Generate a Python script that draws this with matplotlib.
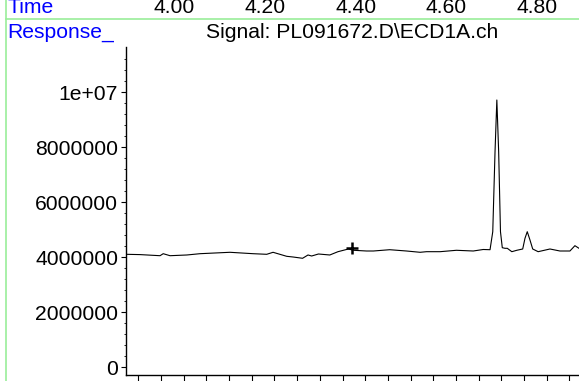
import numpy as np
import matplotlib
matplotlib.use('Agg')
import matplotlib.pyplot as plt
from matplotlib.lines import Line2D
from matplotlib.ticker import FixedLocator, FixedFormatter
import matplotlib.transforms as mtransforms

plt.rcParams['font.family'] = ['Liberation Sans', 'DejaVu Sans']

# chromatogram trace (time in min, response)
time = [3.894, 3.925, 3.969, 3.976, 3.991, 4.028, 4.057, 4.123, 4.174, 4.204,
        4.218, 4.248, 4.262, 4.283, 4.295, 4.303, 4.318, 4.343, 4.361, 4.384,
        4.395, 4.424, 4.439, 4.475, 4.512, 4.542, 4.556, 4.586, 4.622, 4.659,
        4.681, 4.696, 4.702, 4.707, 4.711, 4.715, 4.719, 4.723, 4.729, 4.734,
        4.744, 4.755, 4.768, 4.773, 4.778, 4.784, 4.790, 4.802, 4.828, 4.850,
        4.872, 4.883, 4.892]
response = [4.109, 4.098, 4.058, 4.131, 4.058, 4.084, 4.131, 4.182, 4.131, 4.109,
            4.182, 4.036, 4.011, 3.964, 4.084, 4.047, 4.120, 4.084, 4.204, 4.302,
            4.255, 4.229, 4.229, 4.276, 4.229, 4.182, 4.204, 4.204, 4.255, 4.229,
            4.284, 4.276, 4.931, 7.840, 9.720, 7.840, 4.931, 4.349, 4.327, 4.327,
            4.204, 4.255, 4.302, 4.691, 4.931, 4.629, 4.302, 4.204, 4.302, 4.229,
            4.229, 4.422, 4.327]
response = [r * 1e6 for r in response]

# integration mark
mark_time = [4.391]
mark_resp = [4.327e6]

ytick_vals = [0, 2000000, 4000000, 6000000, 8000000, 10000000]
ytick_labels = ['0', '2000000', '4000000', '6000000', '8000000', '1e+07']
time_labels = ['4.00', '4.20', '4.40', '4.60', '4.80']
time_label_pos = [4.00, 4.20, 4.40, 4.60, 4.80]

W, H = 579, 381
fig = plt.figure(figsize=(W / 100, H / 100), dpi=100)
fs = 15.2

ax = fig.add_axes([126 / W, 1 - 375 / H, 1 - 126 / W, (375 - 46.7) / H])
ax.plot(time, response, color='black', lw=0.8)
ax.plot(mark_time, mark_resp, marker='+', color='black', ms=8, mew=1.8, ls='none')

ax.set_xlim(3.894, 4.892)
ax.set_ylim(-0.28e6, 11.658e6)
ax.spines['top'].set_visible(False)
ax.spines['right'].set_visible(False)
for s in ('left', 'bottom'):
    ax.spines[s].set_linewidth(1.0)

ax.yaxis.set_major_locator(FixedLocator(ytick_vals))
ax.yaxis.set_major_formatter(FixedFormatter(ytick_labels))
ax.yaxis.set_minor_locator(FixedLocator(np.arange(0, 11.6e6, 4e5)))
ax.tick_params(axis='y', which='major', length=3.8, width=0.8, pad=1.8, labelsize=fs)
ax.tick_params(axis='y', which='minor', length=1.8, width=0.6)

ax.xaxis.set_major_locator(FixedLocator(np.arange(3.921, 4.9, 0.05)))
ax.xaxis.set_ticklabels([])
ax.tick_params(axis='x', which='major', length=6, width=0.8)

# header texts
blend = mtransforms.blended_transform_factory(ax.transData, fig.transFigure)
for t, lab in zip(time_label_pos, time_labels):
    fig.text(t, 1 - 13 / H, lab, transform=blend, ha='center', va='baseline',
             fontsize=fs, color='black')
fig.text(7 / W, 1 - 13 / H, 'Time', ha='left', va='baseline', fontsize=fs, color='#0000ff')
fig.text(7 / W, 1 - 37.5 / H, 'Response_', ha='left', va='baseline', fontsize=fs, color='#0000ff')
fig.text(352 / W, 1 - 37.5 / H, 'Signal: PL091672.D\\ECD1A.ch', ha='center', va='baseline',
         fontsize=fs, color='black')

# light green frame lines
fig.add_artist(Line2D([6 / W, 1], [1 - 19 / H, 1 - 19 / H], transform=fig.transFigure,
                      color='#99ee99', lw=1.2))
fig.add_artist(Line2D([6 / W, 6 / W], [0, 1], transform=fig.transFigure,
                      color='#99ee99', lw=1.2))

fig.savefig('out.png', dpi=100)
